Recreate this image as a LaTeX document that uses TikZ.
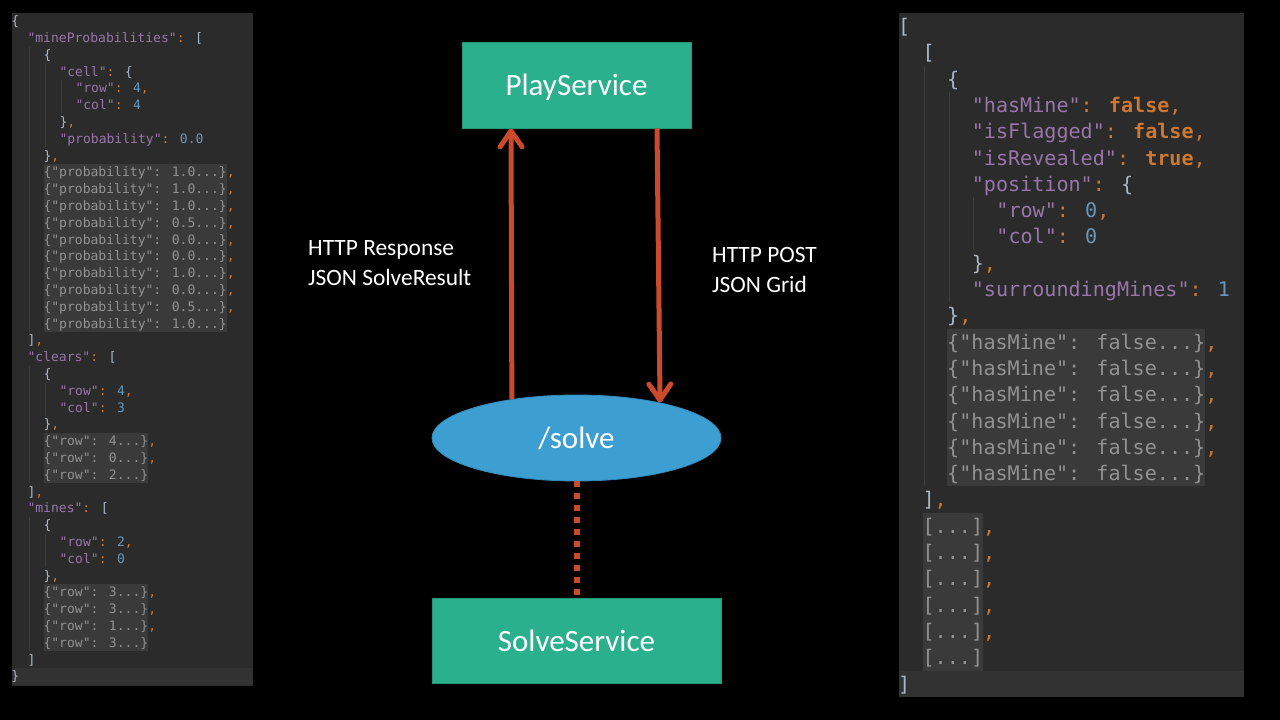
\documentclass[tikz,border=0pt]{standalone}
\usepackage{fontspec}
\usetikzlibrary{arrows.meta,shapes.geometric}
\newfontfamily\codefont{DejaVu Sans Mono}
\newfontfamily\calfont{Carlito}
\definecolor{codebg}{HTML}{2B2B2B}
\definecolor{curline}{HTML}{323232}
\definecolor{guidec}{HTML}{3C3C3C}
\definecolor{keyc}{HTML}{9876AA}
\definecolor{numc}{HTML}{6897BB}
\definecolor{punc}{HTML}{CC7832}
\definecolor{bracec}{HTML}{A9B7C6}
\definecolor{foldbg}{HTML}{3A3A3A}
\definecolor{foldfg}{HTML}{929292}
\definecolor{svcgreen}{HTML}{2BB08D}
\definecolor{svcborder}{HTML}{23967A}
\definecolor{solveblue}{HTML}{3D9ED1}
\definecolor{solveborder}{HTML}{3589B8}
\definecolor{arrowc}{HTML}{CB4A2C}
\newcommand\jk[1]{\textcolor{keyc}{#1}}
\newcommand\jn[1]{\textcolor{numc}{#1}}
\newcommand\jp[1]{\textcolor{punc}{#1}}
\newcommand\jb[1]{\textcolor{bracec}{#1}}
\newcommand\jbool[1]{\textcolor{punc}{\bfseries #1}}
\newcommand\lfold[1]{{\setlength{\fboxsep}{0pt}\colorbox{foldbg}{\rule[-4.2pt]{0pt}{16.8pt}\textcolor{foldfg}{#1}}}}
\newcommand\rfold[1]{{\setlength{\fboxsep}{0pt}\colorbox{foldbg}{\rule[-5.8pt]{0pt}{26.3pt}\textcolor{foldfg}{#1}}}}
% left panel line: level, index, content
\newcommand\Lline[3]{\node[lnode] (l#2) at ({11.5+16*#1},{25.6+16.8*#2}) {#3};}
\newcommand\Rline[3]{\node[rnode] (r#2) at ({898+24.6*#1},{33.5+26.3*#2}) {#3};}
% guides: level, first line, last line
\newcommand\Lguide[3]{\draw[guide] ({11.5+16*#1+2},{13+16.8*#2}) -- ({11.5+16*#1+2},{13+16.8*(#3+1)});}
\newcommand\Rguide[3]{\draw[guide] ({898+24.6*#1+2},{13+26.3*#2}) -- ({898+24.6*#1+2},{13+26.3*(#3+1)});}
\begin{document}
\begin{tikzpicture}[x=1pt,y=-1pt,
  lnode/.style={anchor=base west, inner sep=0pt, outer sep=0pt, font=\codefont\fontsize{13.05}{16.8}\selectfont, text=bracec},
  rnode/.style={anchor=base west, inner sep=0pt, outer sep=0pt, font=\codefont\fontsize{20.1}{26.3}\selectfont, text=bracec},
  guide/.style={draw=guidec, line width=1pt},
  svc/.style={rectangle, fill=svcgreen, draw=svcborder, line width=0.8pt, text=white, font=\calfont\fontsize{31}{36}\selectfont, inner sep=0pt, text height=25pt, text depth=4pt},
  endpoint/.style={ellipse, fill=solveblue, draw=solveborder, line width=0.8pt, text=white, font=\calfont\fontsize{31}{36}\selectfont, inner sep=0pt, text height=25pt, text depth=4pt},
  lbl/.style={anchor=base west, inner sep=0pt, text=white, font=\calfont\fontsize{23.4}{29}\selectfont},
  arr/.style={draw=arrowc, line width=5pt, -{Straight Barb[length=16pt,width=22pt,round]}},
  dotline/.style={draw=arrowc, line width=6pt, dash pattern=on 6pt off 6pt}
]
\useasboundingbox (0,0) rectangle (1280,720);
\fill[black] (0,0) rectangle (1280,720);

% ---------- left code panel ----------
\fill[codebg] (12,13) rectangle (253,686);
\fill[curline] (12,668.2) rectangle (253,685);
\Lguide{1}{2}{18}
\Lguide{2}{3}{7}
\Lguide{3}{4}{5}
\Lguide{1}{21}{27}
\Lguide{2}{22}{23}
\Lguide{1}{30}{37}
\Lguide{2}{31}{32}
\Lline{0}{0}{\jb{\{}}
\Lline{1}{1}{\jk{"mineProbabilities"}\jp{:} \jb{[}}
\Lline{2}{2}{\jb{\{}}
\Lline{3}{3}{\jk{"cell"}\jp{:} \jb{\{}}
\Lline{4}{4}{\jk{"row"}\jp{:} \jn{4}\jp{,}}
\Lline{4}{5}{\jk{"col"}\jp{:} \jn{4}}
\Lline{3}{6}{\jb{\}}\jp{,}}
\Lline{3}{7}{\jk{"probability"}\jp{:} \jn{0.0}}
\Lline{2}{8}{\jb{\}}\jp{,}}
\Lline{2}{9}{\lfold{\{"probability": 1.0...\}}\jp{,}}
\Lline{2}{10}{\lfold{\{"probability": 1.0...\}}\jp{,}}
\Lline{2}{11}{\lfold{\{"probability": 1.0...\}}\jp{,}}
\Lline{2}{12}{\lfold{\{"probability": 0.5...\}}\jp{,}}
\Lline{2}{13}{\lfold{\{"probability": 0.0...\}}\jp{,}}
\Lline{2}{14}{\lfold{\{"probability": 0.0...\}}\jp{,}}
\Lline{2}{15}{\lfold{\{"probability": 1.0...\}}\jp{,}}
\Lline{2}{16}{\lfold{\{"probability": 0.0...\}}\jp{,}}
\Lline{2}{17}{\lfold{\{"probability": 0.5...\}}\jp{,}}
\Lline{2}{18}{\lfold{\{"probability": 1.0...\}}}
\Lline{1}{19}{\jb{]}\jp{,}}
\Lline{1}{20}{\jk{"clears"}\jp{:} \jb{[}}
\Lline{2}{21}{\jb{\{}}
\Lline{3}{22}{\jk{"row"}\jp{:} \jn{4}\jp{,}}
\Lline{3}{23}{\jk{"col"}\jp{:} \jn{3}}
\Lline{2}{24}{\jb{\}}\jp{,}}
\Lline{2}{25}{\lfold{\{"row": 4...\}}\jp{,}}
\Lline{2}{26}{\lfold{\{"row": 0...\}}\jp{,}}
\Lline{2}{27}{\lfold{\{"row": 2...\}}}
\Lline{1}{28}{\jb{]}\jp{,}}
\Lline{1}{29}{\jk{"mines"}\jp{:} \jb{[}}
\Lline{2}{30}{\jb{\{}}
\Lline{3}{31}{\jk{"row"}\jp{:} \jn{2}\jp{,}}
\Lline{3}{32}{\jk{"col"}\jp{:} \jn{0}}
\Lline{2}{33}{\jb{\}}\jp{,}}
\Lline{2}{34}{\lfold{\{"row": 3...\}}\jp{,}}
\Lline{2}{35}{\lfold{\{"row": 3...\}}\jp{,}}
\Lline{2}{36}{\lfold{\{"row": 1...\}}\jp{,}}
\Lline{2}{37}{\lfold{\{"row": 3...\}}}
\Lline{1}{38}{\jb{]}}
\Lline{0}{39}{\jb{\}}}

% ---------- right code panel ----------
\fill[codebg] (899,13) rectangle (1244,697);
\fill[curline] (899,670.5) rectangle (1244,697);
\Rguide{1}{2}{17}
\Rguide{2}{3}{10}
\Rguide{3}{7}{8}
\Rline{0}{0}{\jb{[}}
\Rline{1}{1}{\jb{[}}
\Rline{2}{2}{\jb{\{}}
\Rline{3}{3}{\jk{"hasMine"}\jp{:} \jbool{false}\jp{,}}
\Rline{3}{4}{\jk{"isFlagged"}\jp{:} \jbool{false}\jp{,}}
\Rline{3}{5}{\jk{"isRevealed"}\jp{:} \jbool{true}\jp{,}}
\Rline{3}{6}{\jk{"position"}\jp{:} \jb{\{}}
\Rline{4}{7}{\jk{"row"}\jp{:} \jn{0}\jp{,}}
\Rline{4}{8}{\jk{"col"}\jp{:} \jn{0}}
\Rline{3}{9}{\jb{\}}\jp{,}}
\Rline{3}{10}{\jk{"surroundingMines"}\jp{:} \jn{1}}
\Rline{2}{11}{\jb{\}}\jp{,}}
\Rline{2}{12}{\rfold{\{"hasMine": false...\}}\jp{,}}
\Rline{2}{13}{\rfold{\{"hasMine": false...\}}\jp{,}}
\Rline{2}{14}{\rfold{\{"hasMine": false...\}}\jp{,}}
\Rline{2}{15}{\rfold{\{"hasMine": false...\}}\jp{,}}
\Rline{2}{16}{\rfold{\{"hasMine": false...\}}\jp{,}}
\Rline{2}{17}{\rfold{\{"hasMine": false...\}}}
\Rline{1}{18}{\jb{]}\jp{,}}
\Rline{1}{19}{\rfold{[...]}\jp{,}}
\Rline{1}{20}{\rfold{[...]}\jp{,}}
\Rline{1}{21}{\rfold{[...]}\jp{,}}
\Rline{1}{22}{\rfold{[...]}\jp{,}}
\Rline{1}{23}{\rfold{[...]}\jp{,}}
\Rline{1}{24}{\rfold{[...]}}
\Rline{0}{25}{\jb{]}}

% ---------- centre diagram ----------
\node[svc, minimum width=229pt, minimum height=86pt] (play) at (576.5,85) {PlayService};
\node[endpoint, minimum width=289pt, minimum height=86pt] (solve) at (576.5,438) {/solve};
\node[svc, minimum width=289pt, minimum height=85pt] (solvesvc) at (576.5,640.5) {SolveService};

\coordinate (lx) at (511,0);
\coordinate (rx) at (657,0);
\draw[arr] (solve.149.7) -- (lx |- play.south);
\draw[arr] (rx |- play.south) -- (solve.23.9);
\draw[dotline] (solve.south) -- (solvesvc.north);

\node[lbl] (resp1) at (308,255) {HTTP Response};
\node[lbl] (resp2) at (308,285) {JSON SolveResult};
\node[lbl] (post1) at (712,262) {HTTP POST};
\node[lbl] (post2) at (712,292) {JSON Grid};
\end{tikzpicture}
\end{document}
